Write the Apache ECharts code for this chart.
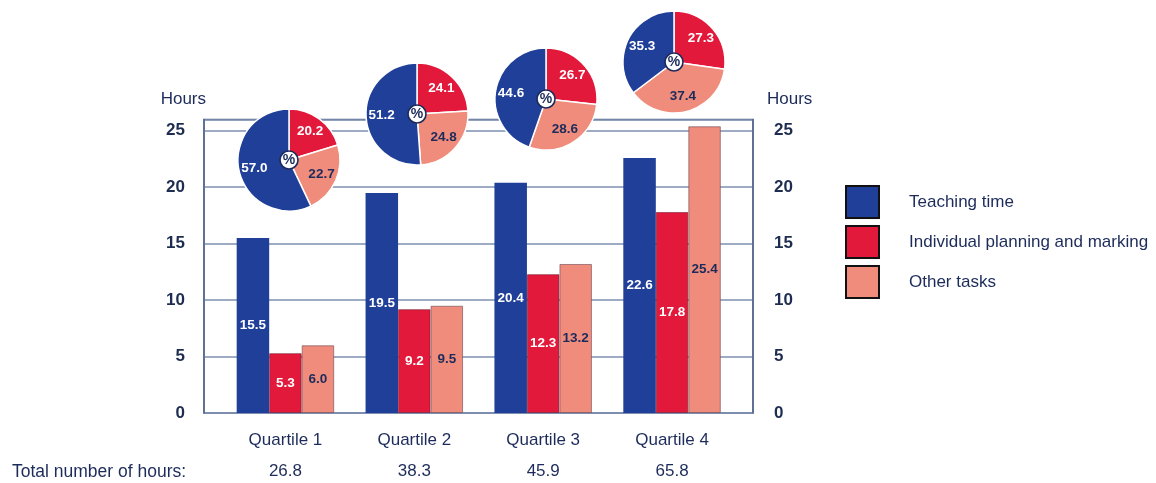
<!DOCTYPE html>
<html>
<head>
<meta charset="utf-8">
<script src="https://cdn.jsdelivr.net/npm/echarts@6/dist/echarts.min.js"></script>
<style>
html,body{margin:0;padding:0;background:#fff;}
#c{width:1156px;height:483px;}
</style>
</head>
<body>
<div id="c"></div>
<script>
// ---- data ----
const categories = ['Quartile 1', 'Quartile 2', 'Quartile 3', 'Quartile 4'];
const totals = ['26.8', '38.3', '45.9', '65.8'];
const teaching = [15.5, 19.5, 20.4, 22.6];
const planning = [5.3, 9.2, 12.3, 17.8];
const other = [6.0, 9.5, 13.2, 25.4];
const pctTeaching = [57.0, 51.2, 44.6, 35.3];
const pctPlanning = [20.2, 24.1, 26.7, 27.3];
const pctOther = [22.7, 24.8, 28.6, 37.4];
const seriesNames = ['Teaching time', 'Individual planning and marking', 'Other tasks'];
const yTicks = [0, 5, 10, 15, 20, 25];

// ---- style / layout ----
const C_BLUE = '#1f3f98';
const C_RED = '#e3193b';
const C_SAL = '#ef8c7c';
const NAVY = '#1c2b5a';
const pieCenters = [[289, 160], [417, 114], [546, 99], [674, 62]];
const pieR = 51;
const narrow = '"Liberation Sans Narrow", "Arial Narrow", "Liberation Sans", Arial, sans-serif';
const sans = '"Liberation Sans", Arial, sans-serif';

const barLabel = (color) => ({
  show: true, position: 'inside', color: color,
  fontFamily: narrow, fontWeight: 'bold', fontSize: 13.5,
  formatter: (p) => p.value.toFixed(1)
});

const series = [
  { name: seriesNames[0], type: 'bar', data: teaching, barWidth: 32.5, barGap: '0%',
    xAxisIndex: 0, yAxisIndex: 0, z: 3,
    itemStyle: { color: C_BLUE }, label: barLabel('#ffffff') },
  { name: seriesNames[1], type: 'bar', data: planning, barWidth: 32.5, barGap: '0%',
    xAxisIndex: 0, yAxisIndex: 0, z: 3,
    itemStyle: { color: C_RED, borderColor: 'rgba(110,20,40,0.55)', borderWidth: 1 }, label: barLabel('#ffffff') },
  { name: seriesNames[2], type: 'bar', data: other, barWidth: 32.5, barGap: '0%',
    xAxisIndex: 0, yAxisIndex: 0, z: 3,
    itemStyle: { color: C_SAL, borderColor: 'rgba(110,70,80,0.6)', borderWidth: 1 }, label: barLabel(NAVY) }
];

categories.forEach((cat, i) => {
  const d = [
    { name: seriesNames[1], value: pctPlanning[i], itemStyle: { color: C_RED } },
    { name: seriesNames[2], value: pctOther[i], itemStyle: { color: C_SAL } },
    { name: seriesNames[0], value: pctTeaching[i], itemStyle: { color: C_BLUE } }
  ];
  // pie slices
  series.push({
    type: 'pie', center: pieCenters[i], radius: [0, pieR], startAngle: 90, clockwise: true,
    z: 5, silent: true, legendHoverLink: false,
    label: { show: false }, labelLine: { show: false },
    itemStyle: { borderColor: '#ffffff', borderWidth: 1.5 },
    emphasis: { disabled: true },
    data: d
  });
  // label ring (transparent) to place labels further out
  series.push({
    type: 'pie', center: pieCenters[i], radius: [14, pieR], startAngle: 90, clockwise: true,
    z: 6, silent: true, legendHoverLink: false,
    labelLine: { show: false }, emphasis: { disabled: true },
    label: {
      show: true, position: 'inside', fontFamily: narrow, fontWeight: 'bold', fontSize: 13.5,
      formatter: (p) => p.value.toFixed(1),
      color: '#ffffff'
    },
    data: d.map((x, k) => ({
      name: x.name, value: x.value,
      itemStyle: { color: 'rgba(0,0,0,0)' },
      label: { color: k === 1 ? NAVY : '#ffffff' }
    }))
  });
  // "%" badge
  series.push({
    type: 'pie', center: pieCenters[i], radius: [0, 9], z: 7, silent: true,
    legendHoverLink: false, emphasis: { disabled: true }, labelLine: { show: false },
    itemStyle: { color: '#ffffff', borderColor: NAVY, borderWidth: 1.6 },
    label: { show: true, position: 'center', formatter: '%', color: NAVY,
      fontFamily: sans, fontWeight: 'bold', fontSize: 14 },
    data: [{ name: '%', value: 1 }]
  });
});

const axisNum = { fontFamily: sans, fontWeight: 'bold', fontSize: 17, color: '#1e2c50' };

const option = {
  animation: false,
  backgroundColor: '#ffffff',
  title: {
    text: 'Total number of hours:', left: 12, top: 463, padding: 0,
    textStyle: { fontFamily: sans, fontWeight: 'normal', fontSize: 17.5, color: NAVY }
  },
  legend: {
    orient: 'vertical', left: 845, top: 185, padding: 0,
    itemWidth: 33, itemHeight: 32, itemGap: 6, icon: 'rect',
    data: seriesNames,
    itemStyle: { borderColor: '#111111', borderWidth: 2 },
    textStyle: { fontFamily: sans, fontSize: 17, color: NAVY, padding: [0, 0, 0, 25] },
    selectedMode: false
  },
  grid: [
    { left: 221, right: 419.5, top: 119.5, bottom: 70 },
    { left: 204, right: 403, top: 119.5, bottom: 70, show: true,
      borderColor: '#56688f', borderWidth: 1.5, backgroundColor: 'transparent' }
  ],
  xAxis: [
    { type: 'category', gridIndex: 0, data: categories,
      axisLine: { show: false }, axisTick: { show: false },
      axisLabel: { margin: 19, fontFamily: sans, fontSize: 17, color: NAVY } },
    { type: 'category', gridIndex: 0, data: totals, position: 'bottom', offset: 32,
      axisLine: { show: false }, axisTick: { show: false },
      axisLabel: { margin: 18, fontFamily: sans, fontSize: 17, color: NAVY } },
    { type: 'category', gridIndex: 1, data: categories, show: false }
  ],
  yAxis: [
    { type: 'value', gridIndex: 0, min: 0, max: 26, interval: 5, show: false },
    { type: 'value', gridIndex: 1, min: 0, max: 26, interval: 5, position: 'left',
      name: 'Hours', nameLocation: 'end', nameGap: 12,
      nameTextStyle: { fontFamily: sans, fontSize: 17, color: NAVY, align: 'right', padding: [0, -2, 0, 0] },
      axisLine: { show: true, lineStyle: { color: '#56688f', width: 1.5 } },
      axisTick: { show: false },
      axisLabel: Object.assign({ margin: 19, showMaxLabel: false,
        formatter: (v) => (yTicks.indexOf(v) >= 0 ? String(v) : '') }, axisNum),
      splitLine: { show: true, lineStyle: { color: '#7e8fb0', width: 1.5 } } },
    { type: 'value', gridIndex: 1, min: 0, max: 26, interval: 5, position: 'right',
      name: 'Hours', nameLocation: 'end', nameGap: 12,
      nameTextStyle: { fontFamily: sans, fontSize: 17, color: NAVY, align: 'left', padding: [0, 0, 0, 14] },
      axisLine: { show: true, lineStyle: { color: '#56688f', width: 1.5 } },
      axisTick: { show: false },
      axisLabel: Object.assign({ margin: 21, showMaxLabel: false,
        formatter: (v) => (yTicks.indexOf(v) >= 0 ? String(v) : '') }, axisNum),
      splitLine: { show: false } }
  ],
  series: series
};

const chart = echarts.init(document.getElementById('c'), null, { renderer: 'canvas' });
chart.setOption(option);
</script>
</body>
</html>
